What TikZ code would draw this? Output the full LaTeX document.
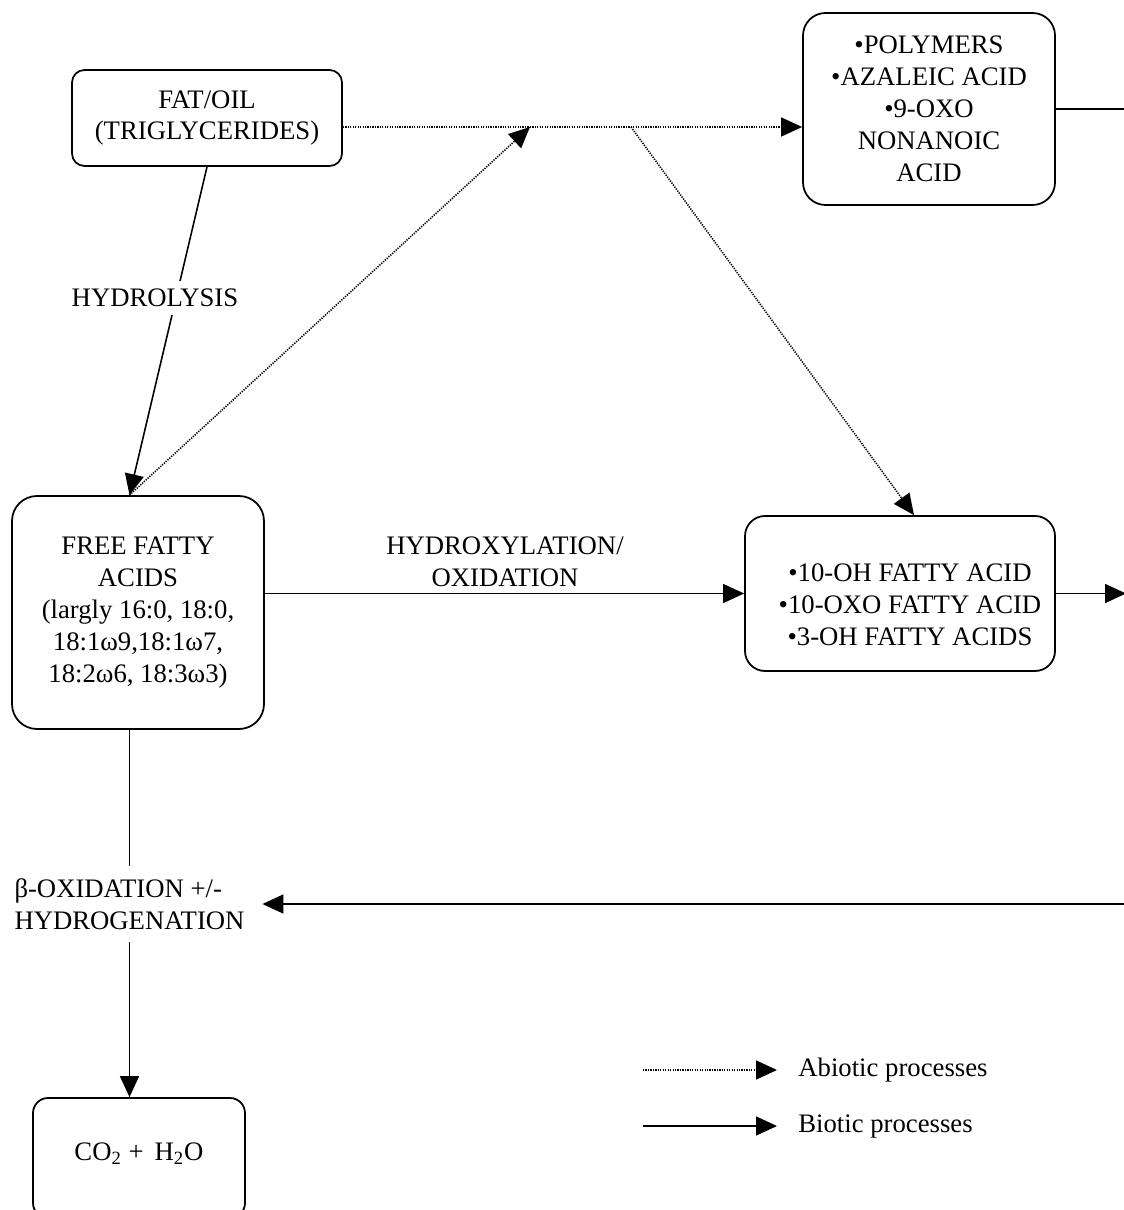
\documentclass[tikz,border=0pt]{standalone}
\usepackage{fontspec}
\setmainfont{Liberation Serif}
\usetikzlibrary{arrows.meta,positioning,calc}

\begin{document}
\begin{tikzpicture}[
 font=\fontsize{15.2}{18.2}\selectfont,
 box/.style={draw,line width=1pt,rounded corners=0.4cm,align=center,inner sep=2pt},
 lbl/.style={align=center,inner sep=2pt},
 bio/.style={line width=0.9pt,-{Triangle[length=0.42cm,width=0.38cm]}},
 abio/.style={line width=0.9pt,dash pattern=on 0.7pt off 0.7pt,-{Triangle[length=0.42cm,width=0.38cm,sep=0pt]}}]
\useasboundingbox (0,0) rectangle (22.46,-24.2);

\node[box,rounded corners=0.25cm,minimum width=5.4cm,minimum height=1.92cm] (fat) at (4.14,-2.36)
 {FAT/OIL\\(TRIGLYCERIDES)};
\node[box,rounded corners=0.45cm,minimum width=5.04cm,minimum height=3.84cm] (poly) at (18.58,-2.18)
 {•POLYMERS\\•AZALEIC ACID\\•9-OXO\\NONANOIC\\ACID};
\node[box,rounded corners=0.5cm,minimum width=5.04cm,minimum height=4.66cm] (ffa) at (2.76,-12.25)
 {FREE FATTY\\ACIDS\\(largly 16:0, 18:0,\\18:1ω9,18:1ω7,\\18:2ω6, 18:3ω3)};
\node[box,minimum width=6.2cm,minimum height=3.1cm] (hyd) at (18.0,-11.87) {};
\node[lbl] (hydtxt) at ([xshift=0.2cm,yshift=-0.23cm]hyd.center)
 {•10-OH FATTY ACID\\•10-OXO FATTY ACID\\•3-OH FATTY ACIDS};
\node[box,rounded corners=0.3cm,minimum width=4.24cm,minimum height=2.4cm] (co2) at (2.78,-23.16) {};
\node[lbl] (co2txt) at (2.78,-23.08) {CO\textsubscript{2} +\, H\textsubscript{2}O};
\node[align=left,inner xsep=10pt,inner ysep=7pt] (beta) at (2.59,-18.08)
 {β-OXIDATION +/-\\HYDROGENATION};
\node[lbl] (hydx) at (10.1,-11.23) {HYDROXYLATION/\\OXIDATION};

\coordinate (j1) at (10.6,-2.54);
\coordinate (j2) at (12.62,-2.54);
\coordinate (pout) at (22.7,-2.18);
\coordinate (hout) at (22.52,-11.87);
\coordinate (bin) at (22.7,-18.08);

\draw[bio] (fat.south) -- (beta.north |- ffa.north);
\node[fill=white,inner sep=4.5pt] (hydro) at (3.1,-5.96) {HYDROLYSIS};

\draw[abio] (fat.east |- j1) -- (poly.west |- j1);
\draw[abio] (beta.north |- ffa.north) -- (j1);
\draw[abio] (j2) -- ([xshift=0.28cm]hyd.north);

\draw[bio] (ffa.east |- hyd.west) -- (hyd.west);
\draw[line width=0.9pt] (poly.east) -- (pout);
\draw[bio] (hyd.east) -- (hout);
\draw[bio] (bin) -- (beta.east);
\draw[line width=0.9pt] (beta.north |- ffa.south) -- (beta.north);
\draw[bio] (beta.south) -- (beta.south |- co2.north);

\coordinate (abs) at (12.86,-21.4);
\coordinate (abe) at (15.54,-21.4);
\coordinate (bis) at (12.86,-22.52);
\coordinate (bie) at (15.54,-22.52);
\draw[abio] (abs) -- (abe);
\draw[bio] (bis) -- (bie);
\node[right=0.42cm of abe,inner sep=0pt] (abtxt) {Abiotic processes};
\node[right=0.42cm of bie,inner sep=0pt] (bitxt) {Biotic processes};
\end{tikzpicture}
\end{document}
